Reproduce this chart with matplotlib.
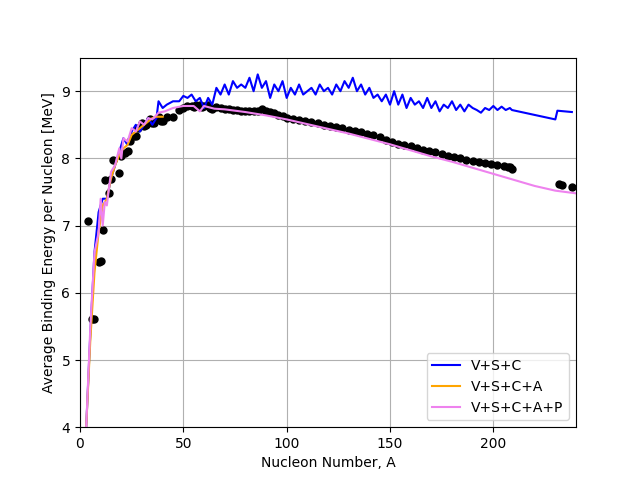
import numpy as np
import matplotlib.pyplot as plt

# experimental points
exp_A = [4, 6, 7, 9, 10, 11, 12, 14, 15, 16, 19, 20, 22, 23, 24, 26, 27, 28, 30, 31, 32, 34, 35, 36,
         38, 39, 40, 42, 45, 48, 50, 52, 54, 55, 56, 58, 59, 60, 62, 63, 64, 66, 68, 70, 72, 74, 76,
         78, 80, 82, 84, 86, 88, 90, 92, 94, 96, 98, 100, 103, 106, 109, 112, 115, 118, 121, 124,
         127, 130, 133, 136, 139, 142, 145, 148, 151, 154, 157, 160, 163, 166, 169, 172, 175, 178,
         181, 184, 187, 190, 193, 196, 199, 202, 205, 207, 208, 209, 232, 233, 238]
exp_B = [7.07, 5.61, 5.61, 6.46, 6.47, 6.93, 7.68, 7.48, 7.70, 7.98, 7.78, 8.03, 8.08, 8.11, 8.26,
         8.33, 8.33, 8.45, 8.52, 8.48, 8.49, 8.58, 8.52, 8.52, 8.61, 8.56, 8.55, 8.62, 8.62, 8.72,
         8.75, 8.78, 8.78, 8.77, 8.79, 8.79, 8.77, 8.78, 8.79, 8.75, 8.74, 8.76, 8.75, 8.73, 8.73,
         8.72, 8.72, 8.71, 8.71, 8.71, 8.71, 8.71, 8.73, 8.71, 8.69, 8.67, 8.65, 8.63, 8.60, 8.59,
         8.57, 8.55, 8.54, 8.52, 8.50, 8.48, 8.47, 8.45, 8.43, 8.41, 8.39, 8.37, 8.35, 8.32, 8.28,
         8.25, 8.22, 8.20, 8.18, 8.16, 8.13, 8.11, 8.09, 8.07, 8.04, 8.02, 8.00, 7.98, 7.96, 7.94,
         7.93, 7.92, 7.90, 7.88, 7.87, 7.87, 7.84, 7.62, 7.61, 7.57]

# V+S+C
vsc_A = [3, 5, 7, 9, 11, 13, 15, 17, 19, 21, 23, 25, 27, 29, 31, 33, 35, 37, 38, 40, 42, 45, 48,
         50, 52, 54, 56, 58, 60, 62, 64, 66, 68, 70, 72, 74, 76, 78, 80, 82, 84, 86, 88, 90, 92,
         94, 96, 98, 100, 102, 104, 106, 108, 110, 112, 114, 116, 118, 120, 122, 124, 126, 128,
         130, 132, 134, 136, 138, 140, 142, 144, 146, 148, 150, 152, 154, 156, 158, 160, 162, 164,
         166, 168, 170, 172, 174, 176, 178, 180, 182, 184, 186, 188, 190, 192, 194, 196, 198, 200,
         202, 204, 206, 208, 209, 230, 231, 238]
vsc_B = [4.0, 5.4, 6.6, 7.2, 7.4, 7.4, 7.7, 7.9, 8.1, 8.3, 8.2, 8.4, 8.5, 8.4, 8.5, 8.6, 8.5, 8.6,
         8.85, 8.75, 8.8, 8.85, 8.85, 8.93, 8.9, 8.95, 8.85, 8.9, 8.75, 8.9, 8.8, 9.05, 8.95,
         9.1, 8.95, 9.15, 9.05, 9.1, 9.05, 9.2, 9.0, 9.25, 9.05, 9.15, 8.9, 9.1, 9.0, 9.15, 8.9,
         9.05, 8.95, 9.1, 8.95, 9.0, 9.05, 8.95, 9.1, 9.0, 9.05, 8.95, 9.1, 9.0, 9.15, 9.05, 9.2,
         9.0, 9.1, 8.95, 9.05, 8.9, 8.95, 8.85, 8.95, 8.8, 9.0, 8.8, 8.95, 8.75, 8.9, 8.8, 8.85,
         8.75, 8.9, 8.75, 8.85, 8.7, 8.8, 8.75, 8.85, 8.72, 8.8, 8.7, 8.8, 8.75, 8.72, 8.68,
         8.75, 8.72, 8.78, 8.72, 8.77, 8.72, 8.75, 8.72, 8.58, 8.71, 8.69]

# V+S+C+A
vsca_A = [3, 5, 7, 9, 11, 13, 15, 17, 19, 21, 23, 25, 27, 29, 31, 33, 35, 37, 40]
vsca_B = [4.0, 5.3, 6.3, 6.9, 7.3, 7.4, 7.7, 7.9, 8.05, 8.15, 8.2, 8.35, 8.4, 8.45, 8.5, 8.55,
          8.6, 8.62, 8.62]

# V+S+C+A+P
full_A = [3, 5, 7, 9, 10, 11, 12, 13, 15, 17, 19, 20, 21, 23, 25, 27, 29, 31, 33, 35, 38, 41, 45,
          50, 55, 58, 60, 65, 70, 80, 90, 100, 110, 120, 130, 140, 150, 160, 170, 180, 190, 200,
          210, 220, 230, 240]
full_B = [4.0, 5.5, 6.6, 6.9, 7.4, 7.0, 7.35, 7.3, 7.8, 7.9, 8.15, 8.0, 8.3, 8.25, 8.45, 8.4,
          8.55, 8.5, 8.6, 8.58, 8.68, 8.7, 8.75, 8.78, 8.78, 8.7, 8.78, 8.74, 8.73, 8.69, 8.64,
          8.58, 8.51, 8.44, 8.37, 8.29, 8.21, 8.12, 8.03, 7.95, 7.86, 7.77, 7.68, 7.59, 7.52, 7.48]

fig, ax = plt.subplots(figsize=(6.4, 4.8), dpi=100)
ax.plot(exp_A, exp_B, 'ko', markersize=5)
ax.plot(vsc_A, vsc_B, color='blue', label='V+S+C')
ax.plot(vsca_A, vsca_B, color='orange', label='V+S+C+A')
ax.plot(full_A, full_B, color='violet', label='V+S+C+A+P')
ax.set_xlim(0, 240)
ax.set_ylim(4, 9.5)
ax.set_xlabel('Nucleon Number, A')
ax.set_ylabel('Average Binding Energy per Nucleon [MeV]')
ax.grid(True)
ax.legend(loc='lower right')
fig.savefig('out.png')
